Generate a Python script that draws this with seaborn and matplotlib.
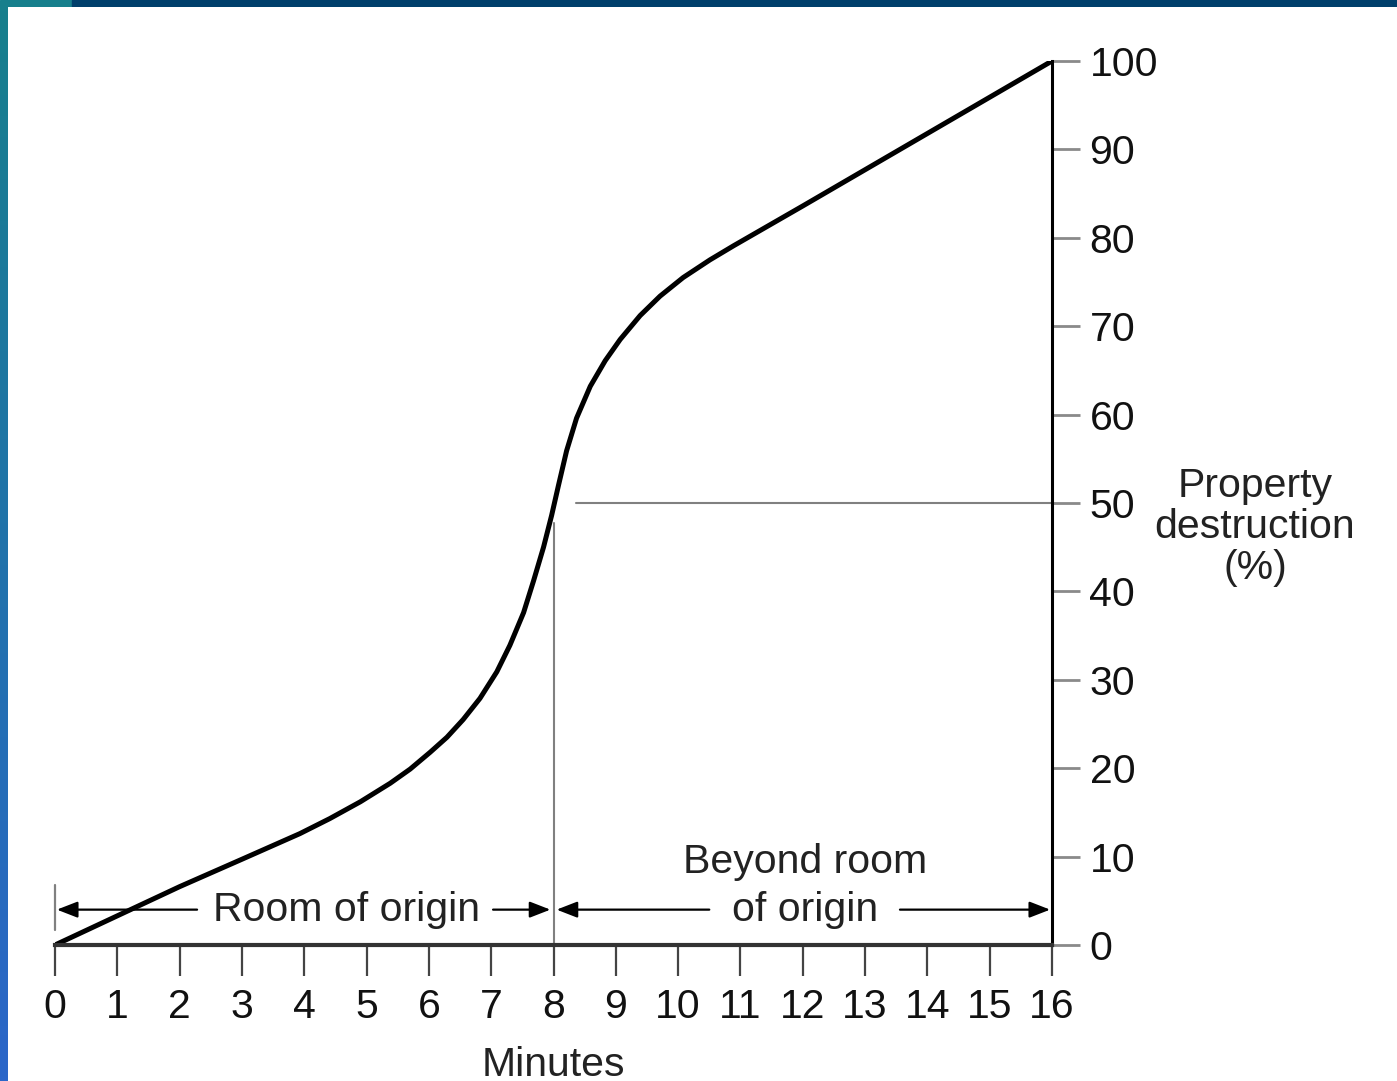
import numpy as np
import pandas as pd
import seaborn as sns
import matplotlib.pyplot as plt
from matplotlib.colors import LinearSegmentedColormap

# values
minutes = [0, 1, 2, 3, 3.93, 4.41, 4.9, 5.38, 5.7, 6.02, 6.29, 6.55, 6.82,
           7.09, 7.3, 7.52, 7.68, 7.84, 7.97, 8.08, 8.21, 8.37, 8.59, 8.83,
           9.07, 9.39, 9.71, 10.08, 10.51, 10.89, 11.26, 12, 13, 14, 15, 16]
destruction = [0, 3.3, 6.6, 9.7, 12.6, 14.3, 16.2, 18.3, 19.9, 21.8, 23.5,
               25.5, 27.9, 30.9, 33.9, 37.6, 41.2, 45.0, 48.6, 52.0, 55.9,
               59.6, 63.2, 66.1, 68.5, 71.2, 73.4, 75.5, 77.5, 79.1, 80.6,
               83.6, 87.7, 91.8, 95.9, 100]
x_ticks = list(range(0, 17))
y_ticks = list(range(0, 101, 10))

df = pd.DataFrame({"Minutes": minutes, "Destruction": destruction})

sns.set_theme(style="white")
plt.rcParams['font.family'] = ['Liberation Sans', 'DejaVu Sans']

FS = 29.5
fig = plt.figure(figsize=(13.97, 10.81), dpi=100)
W, H = 1397, 1081
ax = fig.add_axes([55 / W, 1 - 945 / H, (1052 - 55) / W, (945 - 61) / H])

sns.lineplot(data=df, x="Minutes", y="Destruction", ax=ax, color="black",
             linewidth=3.6, solid_capstyle="round", solid_joinstyle="round")

ax.set_xlim(0, 16)
ax.set_ylim(0, 100)
ax.set_xticks(x_ticks)
ax.set_yticks(y_ticks)
ax.set_xlabel("Minutes", fontsize=FS, color="#222222", labelpad=14)
ax.set_ylabel("")

for s in ["left", "top"]:
    ax.spines[s].set_visible(False)
ax.spines["right"].set_color("black")
ax.spines["right"].set_linewidth(2.2)
ax.spines["bottom"].set_color("#333333")
ax.spines["bottom"].set_linewidth(3)

ax.yaxis.tick_right()
ax.tick_params(axis="y", direction="out", length=20, width=2, color="#8a8a8a",
               pad=7, labelsize=FS, labelcolor="#111111", right=True, left=False)
ax.tick_params(axis="x", direction="out", length=22, width=1.6, color="#444444",
               pad=9, labelsize=FS, labelcolor="#111111", bottom=True)
ax.patch.set_alpha(0)

# guide lines at 8 minutes / 50 %
ax.plot([8, 8], [0, 47.7], color="#808080", linewidth=1.5, zorder=1)
ax.plot([8.36, 16], [50, 50], color="#808080", linewidth=1.5, zorder=1)

# right-hand axis title
fig.text(1255 / W, 1 - 527 / H, "Property\ndestruction\n(%)", fontsize=FS,
         color="#222222", ha="center", va="center", linespacing=1.1)

# span arrows
arrow = dict(arrowstyle="-|>,head_length=0.9,head_width=0.35", color="black",
             lw=1.6, mutation_scale=14, shrinkA=0, shrinkB=0)
ay = 4
ax.plot([0, 0], [1.7, 6.8], color="#808080", linewidth=1.6, clip_on=False)
ax.annotate("", xy=(0.03, ay), xytext=(2.28, ay), arrowprops=arrow)
ax.annotate("", xy=(7.95, ay), xytext=(7.03, ay), arrowprops=arrow)
ax.annotate("", xy=(8.05, ay), xytext=(10.5, ay), arrowprops=arrow)
ax.annotate("", xy=(15.97, ay), xytext=(13.56, ay), arrowprops=arrow)
ax.text(4.68, ay, "Room of origin", fontsize=FS, color="#222222",
        ha="center", va="center")
ax.text(12.04, ay, "of origin", fontsize=FS, color="#222222",
        ha="center", va="center")
ax.text(12.04, 9.4, "Beyond room", fontsize=FS, color="#222222",
        ha="center", va="center")

# slide frame: top bar and gradient left bar
top = fig.add_axes([0, 1 - 7 / H, 1, 7 / H])
top.axis("off")
top.axvspan(0, 72 / W, color="#177f8c")
top.axvspan(72 / W, 1, color="#003f6b")
top.set_xlim(0, 1)

left = fig.add_axes([0, 0, 8 / W, 1 - 7 / H])
left.axis("off")
grad = LinearSegmentedColormap.from_list("bar", ["#177f8c", "#2b66c9"])
left.imshow(np.linspace(0, 1, 256).reshape(-1, 1), aspect="auto", cmap=grad)

fig.savefig("out.png", dpi=100)
